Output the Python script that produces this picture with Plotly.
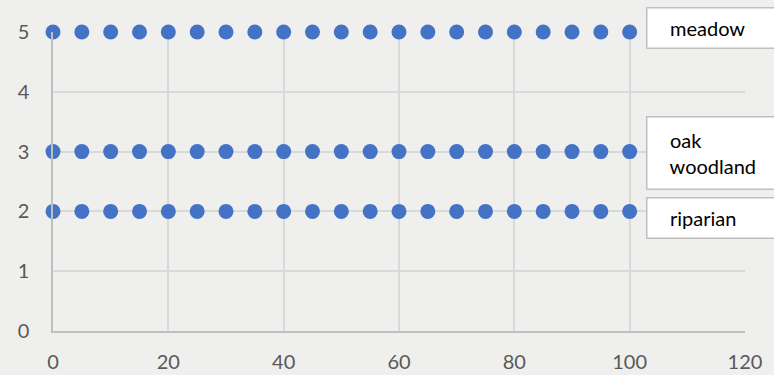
import plotly.graph_objects as go

x_vals = list(range(0, 101, 5))
series_names = ["meadow", "oak woodland", "riparian"]
series_levels = [5, 3, 2]
label_texts = ["meadow", "oak<br>woodland", "riparian"]
label_yshift = [4, -1, -7]
x_ticks = [0, 20, 40, 60, 80, 100, 120]
y_ticks = [0, 1, 2, 3, 4, 5]

fig = go.Figure()
for name, lvl in zip(series_names, series_levels):
    fig.add_trace(go.Scatter(
        x=x_vals, y=[lvl] * len(x_vals), mode="markers", name=name,
        marker=dict(color="#4472C4", size=15, line=dict(width=0)),
        showlegend=False, cliponaxis=False,
    ))

nb = "\u00a0" * 4
for txt, lvl, ys in zip(label_texts, series_levels, label_yshift):
    txt2 = "<br>".join(nb + t for t in txt.split("<br>"))
    n = txt.count("<br>") + 1
    fig.add_annotation(
        x=100, y=lvl, xref="x", yref="y", text=txt2, showarrow=False,
        xanchor="left", yanchor="middle", xshift=16, yshift=ys,
        align="left", width=140, height=35 if n == 1 else 67,
        bgcolor="white", bordercolor="#bfbfbf", borderwidth=1.5, borderpad=2,
        font=dict(family="Lato, Open Sans, sans-serif", size=20, color="#000000"),
    )

fig.update_layout(
    width=774, height=375,
    margin=dict(l=53, r=29, t=32, b=44, autoexpand=False),
    paper_bgcolor="#efefee", plot_bgcolor="rgba(0,0,0,0)",
    font=dict(family="Lato, Open Sans, sans-serif", size=20, color="#595959"),
    xaxis=dict(range=[0, 120], tickvals=x_ticks, showgrid=True, gridcolor="#d9d9d9",
               gridwidth=1.5, zeroline=False, showline=True, linecolor="#bfbfbf",
               linewidth=1.5, ticks="", ticklabelstandoff=12, automargin=False),
    yaxis=dict(range=[0, 5], tickvals=y_ticks, showgrid=True, gridcolor="#d9d9d9",
               gridwidth=1.5, zeroline=False, showline=True, linecolor="#bfbfbf",
               linewidth=1.5, ticks="", ticklabelstandoff=18, automargin=False),
)

fig.write_html("out.html")
